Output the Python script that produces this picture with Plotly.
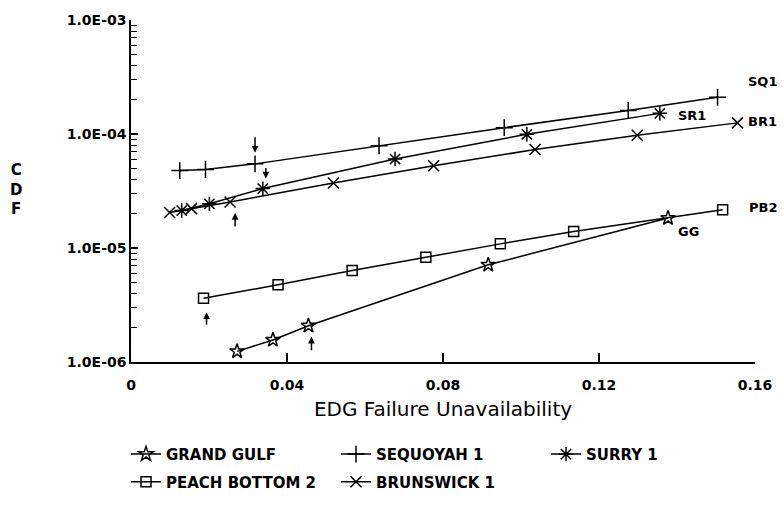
import numpy as np
import plotly.graph_objects as go

# ---- data ----
gg_x = [0.0272, 0.0364, 0.0455, 0.0916, 0.1377]
gg_y = [1.24e-6, 1.56e-6, 2.08e-6, 7.12e-6, 1.83e-5]

pb_x = [0.0186, 0.0377, 0.0567, 0.0756, 0.0947, 0.1135, 0.1517]
pb_y = [3.63e-6, 4.75e-6, 6.34e-6, 8.31e-6, 1.087e-5, 1.396e-5, 2.17e-5]

sq_x = [0.0125, 0.0191, 0.0318, 0.0636, 0.0957, 0.1275, 0.1504]
sq_y = [4.78e-5, 4.88e-5, 5.47e-5, 7.89e-5, 1.137e-4, 1.607e-4, 2.10e-4]

sr_x = [0.0130, 0.0201, 0.0338, 0.0677, 0.1015, 0.1356]
sr_y = [2.13e-5, 2.44e-5, 3.32e-5, 6.03e-5, 9.94e-5, 1.517e-4]

br_x = [0.0099, 0.0155, 0.0254, 0.0519, 0.0776, 0.1036, 0.1298, 0.1555]
br_y = [2.05e-5, 2.215e-5, 2.535e-5, 3.72e-5, 5.27e-5, 7.30e-5, 9.75e-5, 1.252e-4]

x_ticks = [0, 0.04, 0.08, 0.12, 0.16]
x_ticktext = ["0", "0.04", "0.08", "0.12", "0.16"]
y_ticks = [1e-6, 1e-5, 1e-4, 1e-3]
y_ticktext = ["1.0E-06", "1.0E-05", "1.0E-04", "1.0E-03"]

FONT = "DejaVu Sans"

# name, x, y, symbol, size, end label, label shift x/y, legend row
series = [
    ("GRAND GULF", gg_x, gg_y, "star-open", 11, "GG", 20, -13, "legend"),
    ("SEQUOYAH 1", sq_x, sq_y, "cross-thin-open", 12, "SQ1", 45, 16, "legend"),
    ("SURRY 1", sr_x, sr_y, "asterisk-open", 12, "SR1", 32, -2, "legend"),
    ("PEACH BOTTOM 2", pb_x, pb_y, "square-open", 10, "PB2", 40, 2, "legend2"),
    ("BRUNSWICK 1", br_x, br_y, "x-thin-open", 11, "BR1", 25, 1, "legend2"),
]

fig = go.Figure()
annotations = []
for name, xs, ys, sym, size, lab, dx, dy, leg in series:
    fig.add_trace(go.Scatter(
        x=xs, y=ys, name=name, mode="lines+markers", legend=leg,
        line=dict(color="black", width=1.5),
        marker=dict(symbol=sym, size=size, color="black",
                    line=dict(color="black", width=1.5)),
        cliponaxis=False,
    ))
    annotations.append(dict(
        x=xs[-1], y=np.log10(ys[-1]), xref="x", yref="y", text=lab,
        showarrow=False, xshift=dx, yshift=dy,
        font=dict(family=FONT, size=13, color="black", weight="bold"),
    ))

# arrows pointing at the "base case" points
arrow_specs = [
    (sq_x[2], sq_y[2], -28, 11, 0),
    (sr_x[2], sr_y[2], -22, 10, 3),
    (br_x[2], br_y[2], 26, 11, 5),
    (pb_x[0], pb_y[0], 28, 14, 3),
    (gg_x[2], gg_y[2], 26, 11, 3),
]
for ax_x, ax_y, ay, stand, xs_ in arrow_specs:
    annotations.append(dict(
        x=ax_x, y=np.log10(ax_y), xref="x", yref="y", text="",
        showarrow=True, ax=0, ay=ay, standoff=stand, xshift=xs_,
        arrowhead=2, arrowsize=0.9, arrowwidth=1.5, arrowcolor="black",
    ))

annotations.append(dict(
    x=-0.185, y=0.505, xref="paper", yref="paper", text="C<br>D<br>F",
    showarrow=False, xanchor="center", yanchor="middle",
    font=dict(family=FONT, size=15, color="black", weight="bold"),
))

legend_common = dict(
    orientation="h", xanchor="left", yanchor="middle",
    entrywidth=165, traceorder="normal",
    font=dict(family=FONT, size=15, color="black", weight="bold"),
    bgcolor="rgba(0,0,0,0)",
)

fig.update_layout(
    width=784, height=511,
    margin=dict(l=131, r=25, t=15, b=137),
    paper_bgcolor="white", plot_bgcolor="white",
    font=dict(family=FONT, color="black"),
    annotations=annotations,
    showlegend=True,
    legend=dict(x=-0.008, y=-0.270, **legend_common),
    legend2=dict(x=-0.008, y=-0.351, **legend_common),
    xaxis=dict(
        range=[0, 0.16], tickvals=x_ticks, ticktext=x_ticktext,
        ticks="inside", ticklen=9, tickwidth=1.5, tickcolor="black",
        showline=True, linecolor="black", linewidth=1.5, mirror=False,
        showgrid=False, zeroline=False, ticklabelstandoff=9,
        tickfont=dict(family=FONT, size=14, color="black", weight="bold"),
        title=dict(text="EDG Failure Unavailability", standoff=10,
                   font=dict(family=FONT, size=20, color="black")),
    ),
    yaxis=dict(
        type="log", range=[-6, -3], tickvals=y_ticks, ticktext=y_ticktext,
        ticks="inside", ticklen=7, tickwidth=1.5, tickcolor="black",
        minor=dict(ticks="inside", ticklen=6, tickwidth=1.2,
                   tickcolor="black", dtick="D1", showgrid=False),
        showline=True, linecolor="black", linewidth=1.5, mirror=False,
        showgrid=False, zeroline=False,
        tickfont=dict(family=FONT, size=14, color="black", weight="bold"),
    ),
)

fig.write_html("out.html")
